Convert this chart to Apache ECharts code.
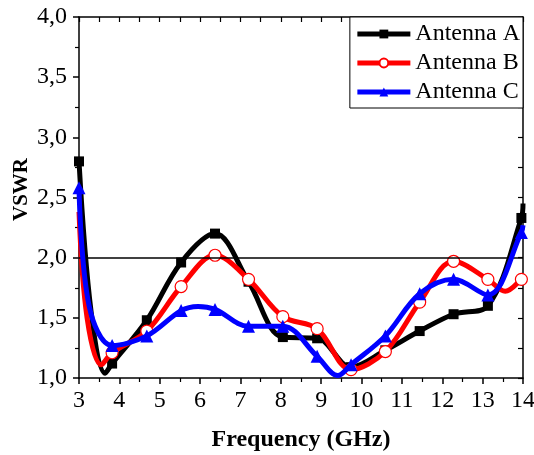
<!DOCTYPE html>
<html>
<head>
<meta charset="utf-8">
<script src="https://cdn.jsdelivr.net/npm/echarts@6/dist/echarts.min.js"></script>
<style>html,body{margin:0;padding:0;background:#fff}#c{width:534px;height:455px}</style>
</head>
<body>
<div id="c"></div>
<script>
// Marker frequencies (GHz)
var freq = [3.0, 3.82, 4.68, 5.53, 6.37, 7.2, 8.05, 8.9, 9.74, 10.59, 11.44, 12.28, 13.13, 13.96];
// VSWR at markers
var antennaA = [2.80, 1.12, 1.48, 1.96, 2.20, 1.80, 1.34, 1.33, 1.09, 1.23, 1.39, 1.53, 1.60, 2.33];
var antennaB = [2.38, 1.21, 1.39, 1.76, 2.02, 1.82, 1.51, 1.41, 1.07, 1.22, 1.63, 1.97, 1.82, 1.82];
var antennaC = [2.58, 1.27, 1.35, 1.56, 1.57, 1.43, 1.43, 1.18, 1.11, 1.35, 1.70, 1.82, 1.69, 2.21];
// Extra points (no markers)
var curveA = [[3.3, 1.55], [3.65, 1.04], [14.0, 2.45]];
var curveB = [[3.2, 1.50], [3.55, 1.11], [13.56, 1.72], [14.0, 1.85]];
var curveC = [[3.25, 1.60], [5.95, 1.595], [9.41, 1.02], [14.0, 2.27]];
// marker indices hidden in the reference
var hiddenB = [0];
var names = ['Antenna A', 'Antenna B', 'Antenna C'];
var yTicks = [1.0, 1.5, 2.0, 2.5, 3.0, 3.5, 4.0];
var xTicks = [3, 4, 5, 6, 7, 8, 9, 10, 11, 12, 13, 14];
var refLevel = 2.0;

function build(vals, extra, hidden) {
  var pts = [];
  for (var i = 0; i < freq.length; i++) {
    var p = {value: [freq[i], vals[i]]};
    if (hidden && hidden.indexOf(i) >= 0) p.symbol = 'none';
    pts.push(p);
  }
  for (var j = 0; j < extra.length; j++) pts.push({value: extra[j], symbol: 'none'});
  pts.sort(function (a, b) { return a.value[0] - b.value[0]; });
  return pts;
}

var FONT = 'Liberation Serif';
var chart = echarts.init(document.getElementById('c'), null, {renderer: 'canvas'});
var axisLine = {show: true, onZero: false, lineStyle: {color: '#000', width: 1.5}};
var opt = {
  animation: false,
  backgroundColor: '#fff',
  grid: {left: 79, right: 11, top: 17, bottom: 77, containLabel: false, outerBoundsMode: 'none'},
  legend: {
    data: names,
    right: 11, top: 17,
    orient: 'vertical',
    backgroundColor: '#fff',
    borderColor: '#000', borderWidth: 1, borderRadius: 0,
    padding: [5, 3, 4, 5],
    itemGap: 5,
    itemWidth: 53, itemHeight: 11,
    lineStyle: {width: 5},
    textStyle: {fontFamily: FONT, fontSize: 24, color: '#000'}
  },
  xAxis: [{
    type: 'value', min: xTicks[0], max: xTicks[xTicks.length - 1], interval: 1,
    name: 'Frequency (GHz)', nameLocation: 'middle', nameGap: 50, nameMoveOverlap: false,
    nameTextStyle: {fontFamily: FONT, fontSize: 24, fontWeight: 'bold', color: '#000'},
    axisLine: axisLine, splitLine: {show: false},
    axisTick: {show: true, inside: false, length: 6, lineStyle: {color: '#000', width: 1.5}},
    minorTick: {show: true, splitNumber: 2, length: 4, lineStyle: {color: '#000', width: 1.2}},
    axisLabel: {fontFamily: FONT, fontSize: 24, color: '#000', margin: 11}
  }, {
    type: 'value', position: 'top', min: xTicks[0], max: xTicks[xTicks.length - 1], interval: 1,
    axisLine: axisLine, splitLine: {show: false},
    axisTick: {show: true, inside: true, length: 5, lineStyle: {color: '#000', width: 1.2}},
    minorTick: {show: true, splitNumber: 2, length: 5, lineStyle: {color: '#000', width: 1.2}},
    axisLabel: {show: false}
  }],
  yAxis: [{
    type: 'value', min: yTicks[0], max: yTicks[yTicks.length - 1], interval: 0.5,
    name: 'VSWR', nameLocation: 'middle', nameGap: 47, nameRotate: 90, nameMoveOverlap: false,
    nameTextStyle: {fontFamily: FONT, fontSize: 21, fontWeight: 'bold', color: '#000', padding: [0, 0, 0, 16]},
    axisLine: axisLine, splitLine: {show: false},
    axisTick: {show: true, inside: false, length: 6, lineStyle: {color: '#000', width: 1.5}},
    minorTick: {show: true, splitNumber: 2, length: 4, lineStyle: {color: '#000', width: 1.2}},
    axisLabel: {fontFamily: FONT, fontSize: 24, color: '#000', margin: 12,
      formatter: function (v) { return v.toFixed(1).replace('.', ','); }}
  }, {
    type: 'value', position: 'right', min: yTicks[0], max: yTicks[yTicks.length - 1], interval: 0.5,
    axisLine: axisLine, splitLine: {show: false},
    axisTick: {show: true, inside: true, length: 5, lineStyle: {color: '#000', width: 1.2}},
    minorTick: {show: true, splitNumber: 2, length: 5, lineStyle: {color: '#000', width: 1.2}},
    axisLabel: {show: false}
  }],
  series: [{
    name: names[0], type: 'line', smooth: 0.35, z: 3,
    data: build(antennaA, curveA),
    symbol: 'rect', symbolSize: 10,
    lineStyle: {color: '#000', width: 5},
    itemStyle: {color: '#000'},
    markLine: {silent: true, symbol: 'none', label: {show: false},
      lineStyle: {color: '#000', width: 1.5, type: 'solid'},
      data: [{yAxis: refLevel}]}
  }, {
    name: names[1], type: 'line', smooth: 0.35, z: 4,
    data: build(antennaB, curveB, hiddenB),
    symbol: 'circle', symbolSize: 12,
    lineStyle: {color: '#ff0000', width: 5},
    itemStyle: {color: '#fff', borderColor: '#ff0000', borderWidth: 1.2}
  }, {
    name: names[2], type: 'line', smooth: 0.35, z: 5,
    data: build(antennaC, curveC),
    symbol: 'triangle', symbolSize: 13,
    lineStyle: {color: '#0000ff', width: 5},
    itemStyle: {color: '#0000ff'}
  }]
};
chart.setOption(opt);
</script>
</body>
</html>
